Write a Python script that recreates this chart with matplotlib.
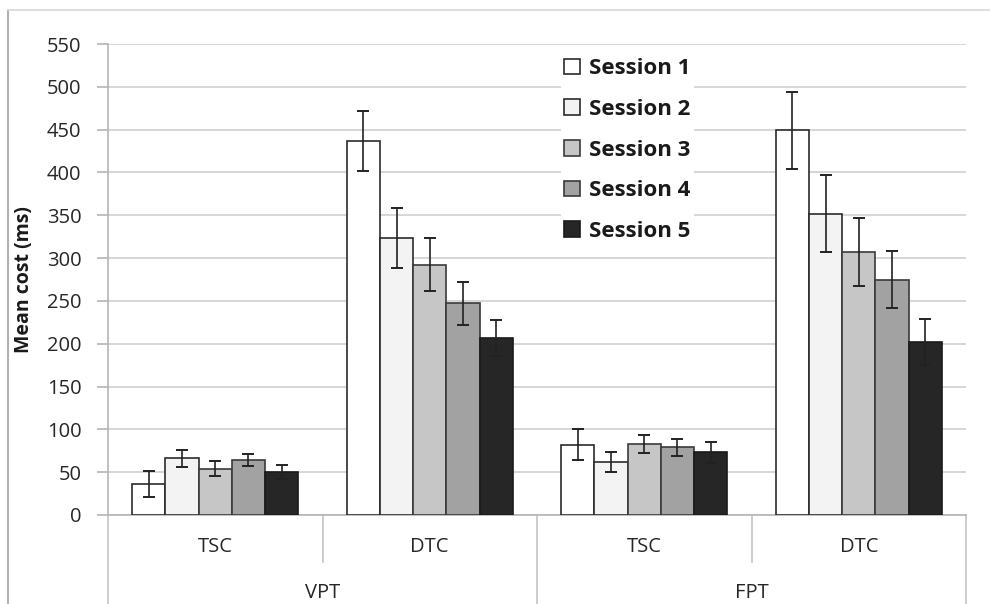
import matplotlib
matplotlib.use("Agg")
import matplotlib.pyplot as plt
from matplotlib.lines import Line2D
import numpy as np

plt.rcParams['font.family'] = ['Open Sans', 'DejaVu Sans']

# ---- data ----
categories = ["TSC", "DTC", "TSC", "DTC"]
groups = ["VPT", "FPT"]
sessions = ["Session 1", "Session 2", "Session 3", "Session 4", "Session 5"]
means = {
    "Session 1": [36, 437, 82, 449],
    "Session 2": [66, 324, 62, 352],
    "Session 3": [54, 292, 83, 307],
    "Session 4": [64, 247, 79, 275],
    "Session 5": [50, 207, 73, 202],
}
errors = {
    "Session 1": [15, 35, 18, 45],
    "Session 2": [10, 35, 12, 45],
    "Session 3": [9, 31, 11, 40],
    "Session 4": [7, 25, 10, 33],
    "Session 5": [8, 21, 12, 27],
}
yticks = list(range(0, 551, 50))

face = ["#ffffff", "#f3f3f3", "#c6c6c6", "#a2a2a2", "#262626"]
edge = ["#2b2b2b", "#2b2b2b", "#3a3a3a", "#3a3a3a", "#1a1a1a"]

W, H = 990, 604
fig = plt.figure(figsize=(W / 100, H / 100), dpi=100)
fig.patch.set_facecolor("white")

x0, x1 = 108, 966
y0, y1 = 515, 44
ax = fig.add_axes([x0 / W, 1 - y0 / H, (x1 - x0) / W, (y0 - y1) / H])

x = np.arange(len(categories))
bw = 0.155
for i, s in enumerate(sessions):
    pos = x + (i - 2) * bw
    ax.bar(pos, means[s], width=bw, color=face[i], edgecolor=edge[i],
           linewidth=1.2, zorder=3)
    ax.errorbar(pos, means[s], yerr=errors[s], fmt="none", ecolor="#222222",
                elinewidth=1.2, capsize=4.5, capthick=1.4, zorder=4)

ax.set_xlim(-0.5, len(categories) - 0.5)
ax.set_ylim(0, 550)
ax.set_yticks(yticks)
ax.yaxis.grid(True, color="#cfcfcf", linewidth=1.2, zorder=0)
ax.set_axisbelow(True)
ax.set_xticks([])
for sp in ["top", "right"]:
    ax.spines[sp].set_visible(False)
ax.spines["left"].set_color("#b5b5b5")
ax.spines["bottom"].set_color("#b5b5b5")
ax.spines["left"].set_linewidth(1.2)
ax.spines["bottom"].set_linewidth(1.2)
ax.tick_params(axis="y", length=8, width=1.2, color="#b5b5b5", pad=11,
               labelsize=14.5, labelcolor="#262626")
ax.set_ylabel("Mean cost (ms)", fontsize=14, fontweight="bold",
              color="#1a1a1a", labelpad=9)

# multi-level category axis
lc = "#c4c4c4"
for xv in [0.5, 2.5]:
    ax.add_line(Line2D([xv, xv], [0, -0.1], transform=ax.get_xaxis_transform(),
                       color=lc, linewidth=1.2, clip_on=False))
for xv in [-0.5, 1.5, 3.5]:
    ax.add_line(Line2D([xv, xv], [0, -0.25], transform=ax.get_xaxis_transform(),
                       color=lc, linewidth=1.2, clip_on=False))
for xi, c in zip(x, categories):
    ax.text(xi, -0.067, c, transform=ax.get_xaxis_transform(), ha="center",
            va="center", fontsize=14.5, color="#262626")
for gi, g in enumerate(groups):
    ax.text(2 * gi + 0.5, 1 / H + 0.0005, g, transform=ax.get_xaxis_transform() if False else
            __import__("matplotlib").transforms.blended_transform_factory(ax.transData, fig.transFigure),
            ha="center", va="bottom", fontsize=14.5, color="#262626")

# legend
handles = [plt.Rectangle((0, 0), 1, 1, facecolor=face[i], edgecolor=edge[i],
                         linewidth=1.2) for i in range(5)]
leg = ax.legend(handles, sessions, loc="upper left",
                bbox_to_anchor=(550 / W, 1 - 44 / H), bbox_transform=fig.transFigure,
                frameon=True, facecolor="white", edgecolor="none", framealpha=1,
                fancybox=False, handlelength=0.7, handleheight=0.7,
                handletextpad=0.4, labelspacing=0.88, borderpad=0.15,
                prop={"size": 16, "weight": "bold"})
for t in leg.get_texts():
    t.set_color("#1a1a1a")
leg.set_zorder(5)

# outer frame
fig.add_artist(Line2D([8 / W, 8 / W], [0, 1 - 10 / H], transform=fig.transFigure,
                      color="#b0b0b0", linewidth=1.5))
fig.add_artist(Line2D([8 / W, 1], [1 - 10 / H, 1 - 10 / H], transform=fig.transFigure,
                      color="#d8d8d8", linewidth=1.2))

fig.savefig("out.png", dpi=100, facecolor="white")
